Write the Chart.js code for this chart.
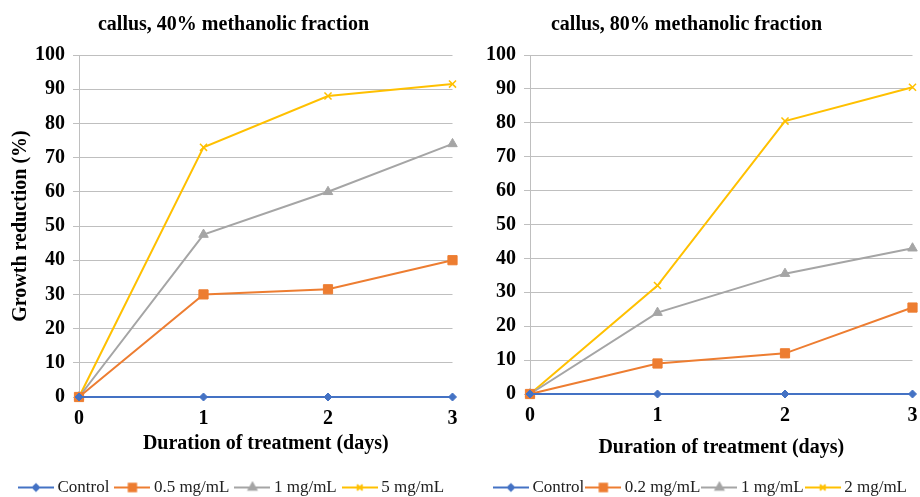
<!DOCTYPE html>
<html>
<head>
<meta charset="utf-8">
<script src="https://cdn.jsdelivr.net/npm/chart.js@4"></script>
<style>
  body { margin: 0; background: #fff; width: 920px; height: 497px; overflow: hidden; position: relative; }
  /* a little taller than the page so the legend sits at the very bottom */
  .box { position: absolute; top: 0; width: 460px; height: 506px; }
  #left { left: 0; }
  #right { left: 460px; }
</style>
</head>
<body>
<div class="box" id="left"><canvas id="chartLeft"></canvas></div>
<div class="box" id="right"><canvas id="chartRight"></canvas></div>
<script>
const days = [0, 1, 2, 3];
const yTicks = [0, 10, 20, 30, 40, 50, 60, 70, 80, 90, 100];

// 40% methanolic fraction
const left_title = "callus, 40% methanolic fraction";
const left_names = ["Control", "0.5 mg/mL", "1 mg/mL", "5 mg/mL"];
const left_control = [0, 0, 0, 0];
const left_low = [0, 30, 31.5, 40];
const left_mid = [0, 47.5, 60, 74];
const left_high = [0, 73, 88, 91.5];

// 80% methanolic fraction
const right_title = "callus, 80% methanolic fraction";
const right_names = ["Control", "0.2 mg/mL", "1 mg/mL", "2 mg/mL"];
const right_control = [0, 0, 0, 0];
const right_low = [0, 9, 12, 25.5];
const right_mid = [0, 24, 35.5, 43];
const right_high = [0, 32, 80.5, 90.5];

const series_colors = ["#4472C4", "#ED7D31", "#A5A5A5", "#FFC000"];
const series_styles = ["rectRot", "rect", "triangle", "crossRot"];
const series_radius = [4, 6.5, 5.5, 5];

const serif = "'Liberation Serif', 'Times New Roman', serif";

// legend icon: short line with the marker in the middle
function legendIcon(i) {
  const c = document.createElement("canvas");
  c.width = 36;
  c.height = 14;
  const ctx = c.getContext("2d");
  ctx.strokeStyle = series_colors[i];
  ctx.fillStyle = series_colors[i];
  ctx.lineWidth = 2;
  ctx.beginPath();
  ctx.moveTo(0, 7);
  ctx.lineTo(36, 7);
  ctx.stroke();
  Chart.helpers.drawPoint(ctx, {
    pointStyle: series_styles[i],
    radius: series_radius[i] * 0.8,
    rotation: 0,
    borderWidth: 1.5,
  }, 18, 7);
  return c;
}

function makeChart(id, title, names, values, cfg) {
  const datasets = values.map((vals, i) => ({
    label: names[i],
    data: vals,
    borderColor: series_colors[i],
    backgroundColor: series_colors[i],
    borderWidth: 2,
    pointStyle: series_styles[i],
    pointRadius: series_radius[i],
    pointHoverRadius: series_radius[i],
    pointBorderWidth: series_styles[i] == "crossRot" ? 1.5 : 1,
    tension: 0,
    clip: false,
  }));

  return new Chart(document.getElementById(id), {
    type: "line",
    data: { labels: days, datasets: datasets },
    options: {
      responsive: true,
      maintainAspectRatio: false,
      animation: false,
      layout: { padding: { left: cfg.padLeft, right: cfg.padRight, top: 0, bottom: 0 } },
      plugins: {
        tooltip: { enabled: false },
        title: {
          display: true,
          text: title,
          color: "#000",
          font: { family: serif, size: 20, weight: "bold" },
          padding: { top: 13, bottom: 18 },
        },
        legend: {
          position: "bottom",
          align: cfg.legendAlign,
          labels: {
            usePointStyle: true,
            pointStyleWidth: 26,
            padding: cfg.legendGap,
            color: "#222",
            font: { family: serif, size: 17 },
            generateLabels: (chart) =>
              Chart.defaults.plugins.legend.labels.generateLabels(chart).map((l, i) => {
                l.pointStyle = legendIcon(i);
                return l;
              }),
          },
        },
      },
      scales: {
        x: {
          type: "category",
          offset: false,
          afterFit: (scale) => {
            scale.paddingLeft = 0;
            scale.paddingRight = 0;
            scale.height = cfg.xHeight;
          },
          grid: { display: false, drawTicks: false },
          border: { display: false },
          ticks: {
            color: "#000",
            padding: 10,
            maxRotation: 0,
            font: { family: serif, size: 20, weight: "bold" },
          },
          title: {
            display: true,
            text: "Duration of treatment (days)",
            color: "#000",
            padding: { top: 1, bottom: 13 },
            font: { family: serif, size: 20, weight: "bold" },
          },
        },
        y: {
          min: 0,
          max: 100,
          afterFit: (scale) => { scale.width = cfg.yWidth; },
          afterBuildTicks: (scale) => { scale.ticks = yTicks.map((v) => ({ value: v })); },
          grid: { color: "#BFBFBF", lineWidth: 1, tickLength: 6 },
          border: { display: true, color: "#BFBFBF", width: 1 },
          ticks: {
            color: "#000",
            padding: 8,
            font: { family: serif, size: 20, weight: "bold" },
          },
          title: {
            display: cfg.showYTitle,
            text: "Growth reduction (%)",
            color: "#000",
            padding: { top: 0, bottom: 0 },
            font: { family: serif, size: 20, weight: "bold" },
          },
        },
      },
    },
  });
}

makeChart("chartLeft", left_title, left_names,
  [left_control, left_low, left_mid, left_high],
  { padLeft: 9, padRight: 2, yWidth: 70, xHeight: 72, showYTitle: true, legendAlign: "center", legendGap: 10 });
makeChart("chartRight", right_title, right_names,
  [right_control, right_low, right_mid, right_high],
  { padLeft: 0, padRight: 7, yWidth: 70, xHeight: 79, showYTitle: false, legendAlign: "end", legendGap: 6 });
</script>
</body>
</html>
